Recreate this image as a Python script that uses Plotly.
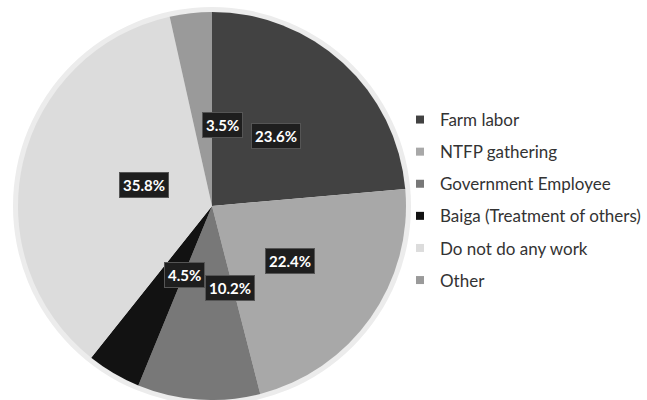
import math
import plotly.graph_objects as go

# Occupation of respondents (percent of households)
categories = [
    "Farm labor",
    "NTFP gathering",
    "Government Employee",
    "Baiga (Treatment of others)",
    "Do not do any work",
    "Other",
]
shares = [23.6, 22.4, 10.2, 4.5, 35.8, 3.5]
slice_colors = ["#424242", "#a8a8a8", "#787878", "#121212", "#dcdcdc", "#9a9a9a"]

W, H = 647, 400
CX, CY, R = 212, 206, 194          # pie centre (px from top-left) and radius
RIM = 5                            # light rim around the pie
LABEL_R = 0.49                     # label distance as a fraction of the radius
FONT = "Lato, 'Open Sans', sans-serif"

fig = go.Figure()

fig.add_trace(go.Pie(
    labels=categories,
    values=shares,
    sort=False,
    direction="clockwise",
    rotation=0,
    marker=dict(colors=slice_colors, line=dict(width=0)),
    textinfo="none",
    hoverinfo="label+percent",
    showlegend=False,
    domain=dict(x=[(CX - R) / W, (CX + R) / W],
                y=[(H - CY - R) / H, (H - CY + R) / H]),
))

# legend entries (one group each so they can be spaced apart)
for name, col in zip(categories, slice_colors):
    fig.add_trace(go.Scatter(
        x=[None], y=[None], mode="markers", name=name, legendgroup=name,
        marker=dict(symbol="square", size=8, color=col, line=dict(width=0)),
        hoverinfo="skip",
    ))

# pale rim behind the pie
fig.add_shape(
    type="circle", xref="paper", yref="paper", layer="below",
    x0=(CX - R - RIM) / W, x1=(CX + R + RIM) / W,
    y0=(H - CY - R - RIM) / H, y1=(H - CY + R + RIM) / H,
    fillcolor="#ececec", line=dict(width=0),
)

# dark percentage tags at each slice's mid-angle
total = sum(shares)
cum = 0.0
for v in shares:
    mid = math.radians(90 - 360 * (cum + v / 2) / total)
    cum += v
    px = CX + LABEL_R * R * math.cos(mid)
    py = CY - LABEL_R * R * math.sin(mid)
    fig.add_annotation(
        x=px / W, y=(H - py) / H, xref="paper", yref="paper",
        text=f"<b>{v:.1f}%</b>", showarrow=False,
        font=dict(family=FONT, size=15, color="white"),
        bgcolor="#1e1e1e", bordercolor="#555555", borderwidth=1, borderpad=3,
    )

fig.update_layout(
    width=W, height=H,
    margin=dict(l=0, r=0, t=0, b=0),
    paper_bgcolor="white", plot_bgcolor="rgba(0,0,0,0)",
    xaxis=dict(visible=False), yaxis=dict(visible=False),
    showlegend=True,
    legend=dict(
        x=400 / W, xanchor="left", y=0.5, yanchor="middle",
        font=dict(family=FONT, size=17, color="#333333"),
        tracegroupgap=7, itemsizing="trace",
        bgcolor="rgba(0,0,0,0)", borderwidth=0,
    ),
    font=dict(family=FONT),
)

fig.write_html("out.html")
